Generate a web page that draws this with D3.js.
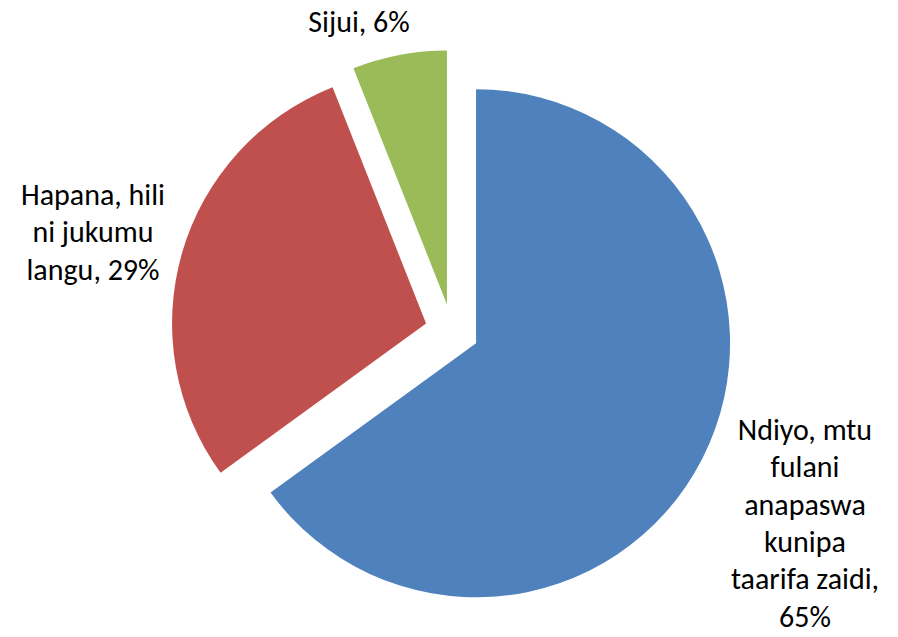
<!DOCTYPE html>
<html>
<head>
<meta charset="utf-8">
<script src="https://cdn.jsdelivr.net/npm/d3@7"></script>
<style>
  html, body { margin: 0; padding: 0; background: #fff; }
  svg { display: block; }
  text { font-family: Carlito, Calibri, Lato, "Liberation Sans", sans-serif; fill: #000; }
</style>
</head>
<body>
<svg id="chart" width="898" height="637"></svg>
<script>
// Data
const categories = ["Ndiyo, mtu fulani anapaswa kunipa taarifa zaidi", "Hapana, hili ni jukumu langu", "Sijui"];
const values = [65, 29, 6];
const labelLines = [
  ["Ndiyo, mtu", "fulani", "anapaswa", "kunipa", "taarifa zaidi,", "65%"],
  ["Hapana, hili", "ni jukumu", "langu, 29%"],
  ["Sijui, 6%"]
];
const colors = ["#4F81BD", "#C0504D", "#9BBB59"];

// Layout
const width = 898, height = 637;
const cx = 452, cy = 331, radius = 254, explode = 27;
const labelPos = [
  { x: 805, y: 440 },
  { x: 93, y: 205 },
  { x: 359, y: 32 }
];
const lineHeight = 37.3;

const svg = d3.select("#chart");
const g = svg.append("g").attr("transform", `translate(${cx},${cy})`);

const pie = d3.pie().sort(null).value(d => d)(values);
const arc = d3.arc().innerRadius(0).outerRadius(radius);

g.selectAll("path")
  .data(pie)
  .join("path")
  .attr("d", arc)
  .attr("fill", (d, i) => colors[i])
  .attr("transform", d => {
    const mid = (d.startAngle + d.endAngle) / 2;
    return `translate(${explode * Math.sin(mid)},${-explode * Math.cos(mid)})`;
  });

const labels = svg.selectAll("text.lbl")
  .data(pie)
  .join("text")
  .attr("class", "lbl")
  .attr("text-anchor", "middle")
  .attr("font-size", 30);

labels.each(function(d, i) {
  const t = d3.select(this);
  labelLines[i].forEach((line, j) => {
    t.append("tspan")
      .attr("x", labelPos[i].x)
      .attr("y", labelPos[i].y + j * lineHeight)
      .text(line);
  });
});
</script>
</body>
</html>
